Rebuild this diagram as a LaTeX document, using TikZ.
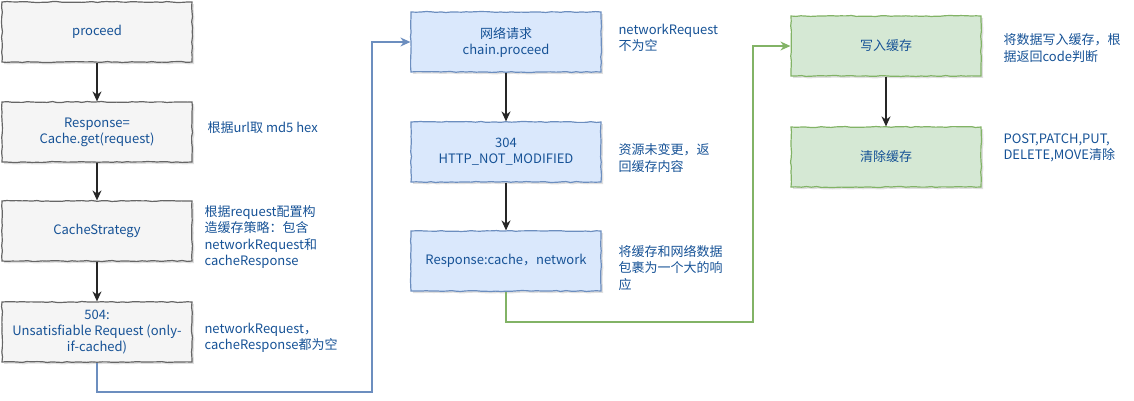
\documentclass[tikz,border=0pt]{standalone}
\usepackage{fontspec}
\setmainfont{Noto Sans CJK SC}
\usetikzlibrary{arrows.meta,decorations.pathmorphing,shadows}

\definecolor{txtblue}{RGB}{22,82,150}
\definecolor{grayfill}{RGB}{245,245,245}
\definecolor{graystroke}{RGB}{102,102,102}
\definecolor{bluefill}{RGB}{218,232,252}
\definecolor{bluestroke}{RGB}{108,142,191}
\definecolor{greenfill}{RGB}{213,232,212}
\definecolor{greenstroke}{RGB}{130,179,102}

\tikzset{
    stepbox/.style={draw, line width=1.2pt, minimum width=190pt, minimum height=60pt,
        align=center, text=txtblue, font=\fontsize{13}{16}\selectfont,
        decorate, decoration={random steps, segment length=5pt, amplitude=0.5pt},
        drop shadow={opacity=0.25, shadow xshift=2pt, shadow yshift=-2pt}},
    graybox/.style={stepbox, fill=grayfill, draw=graystroke},
    bluebox/.style={stepbox, fill=bluefill, draw=bluestroke},
    greenbox/.style={stepbox, fill=greenfill, draw=greenstroke},
    note/.style={anchor=west, align=left, text=txtblue, font=\fontsize{13}{16.5}\selectfont},
    flow/.style={-{Stealth[length=10pt,width=9pt]}, line width=1.4pt, draw=black!85},
    link/.style={-{Stealth[length=10pt,width=9pt]}, line width=1.3pt}
}

\begin{document}
\begin{tikzpicture}[x=1pt,y=-1pt]
            \useasboundingbox (0,0) rectangle (1134,400);

            \node [graybox] (proceed) at (97,32) {proceed};
            \node [graybox] (cacheget) at (97,132) {Response=\\Cache.get(request)};
            \node [graybox] (strategy) at (97,231) {CacheStrategy};
            \node [graybox] (r504) at (97,332) {504:\\Unsatisfiable Request (only-\\if-cached)};

            \node [bluebox] (net) at (506,42) {网络请求\\chain.proceed};
            \node [bluebox] (r304) at (506,152) {304\\HTTP\_NOT\_MODIFIED};
            \node [bluebox] (resp) at (506,261) {Response:cache，network};

            \node [greenbox] (write) at (886,46) {写入缓存};
            \node [greenbox] (clear) at (886,157) {清除缓存};

            \node [note] (nurl) at (204,128) {根据url取 md5 hex};
            \node [note] (nstrategy) at (201,237) {根据request配置构\\造缓存策略：包含\\networkRequest和\\cacheResponse};
            \node [note] (n504) at (201,338) {networkRequest，\\cacheResponse都为空};
            \node [note] (nnet) at (615,38) {networkRequest\\不为空};
            \node [note] (n304) at (615,158) {资源未变更，返\\回缓存内容};
            \node [note] (nresp) at (615,268) {将缓存和网络数据\\包裹为一个大的响\\应};
            \node [note] (nwrite) at (1000,48) {将数据写入缓存，根\\据返回code判断};
            \node [note] (nclear) at (1000,148) {POST,PATCH,PUT,\\DELETE,MOVE清除};

            \draw [flow] (proceed) -- (cacheget);
            \draw [flow] (cacheget) -- (strategy);
            \draw [flow] (strategy) -- (r504);

            \draw [flow] (net) -- (r304);
            \draw [flow] (r304) -- (resp);

            \draw [flow] (write) -- (clear);

            \coordinate (bluecorner) at (372,392);
            \coordinate (greencorner) at (753,322);
            \draw [link, bluestroke] (r504.south) |- (bluecorner) |- (net.west);
            \draw [link, greenstroke] (resp.south) |- (greencorner) |- (write.west);
\end{tikzpicture}
\end{document}
